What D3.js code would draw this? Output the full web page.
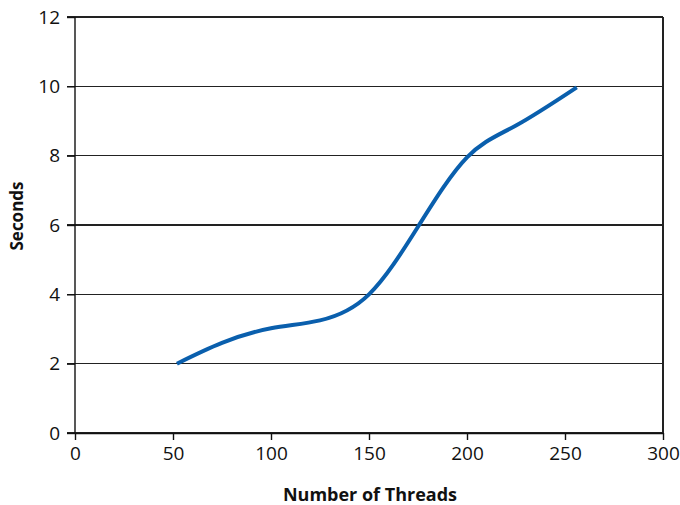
<!DOCTYPE html>
<html>
<head>
<meta charset="utf-8">
<script src="https://cdn.jsdelivr.net/npm/d3@7"></script>
<style>
  body { margin: 0; background: #fff; }
  svg text { font-family: "Open Sans", "DejaVu Sans", sans-serif; fill: #111; }
</style>
</head>
<body>
<div id="chart"></div>
<script>
// values
const threads = [52, 75, 100, 125, 150, 175, 200, 225, 256];
const seconds = [2.0, 2.6, 3.02, 3.25, 4.0, 5.95, 7.95, 8.87, 9.97];
const xTicks = [0, 50, 100, 150, 200, 250, 300];
const yTicks = [0, 2, 4, 6, 8, 10, 12];

const W = 680, H = 505;
const margin = { top: 17, right: 17, bottom: 72, left: 75 };
const iw = W - margin.left - margin.right, ih = H - margin.top - margin.bottom;

const svg = d3.select("#chart").append("svg").attr("width", W).attr("height", H);
const g = svg.append("g").attr("transform", `translate(${margin.left},${margin.top})`);

const x = d3.scaleLinear().domain([0, 300]).range([0, iw]);
const y = d3.scaleLinear().domain([0, 12]).range([ih, 0]);

// horizontal grid, extended past the axis as tick marks
g.append("g").selectAll("line").data(yTicks).join("line")
  .attr("x1", -8).attr("x2", iw).attr("y1", (d) => y(d)).attr("y2", (d) => y(d))
  .attr("stroke", "#222").attr("stroke-width", 1.2).attr("shape-rendering", "crispEdges");

// right border
g.append("line").attr("x1", iw).attr("x2", iw).attr("y1", 0).attr("y2", ih)
  .attr("stroke", "#222").attr("stroke-width", 1.2).attr("shape-rendering", "crispEdges");

const xAxis = g.append("g").attr("transform", `translate(0,${ih})`)
  .call(d3.axisBottom(x).tickValues(xTicks).tickSize(7).tickPadding(7).tickSizeOuter(0));
const yAxis = g.append("g")
  .call(d3.axisLeft(y).tickValues(yTicks).tickSize(8).tickPadding(7).tickSizeOuter(0));
for (const a of [xAxis, yAxis]) {
  a.attr("font-size", 19).attr("font-family", null);
  a.selectAll("path,line").attr("stroke", "#111").attr("stroke-width", 1.4);
}
yAxis.select(".domain").attr("d", `M0,0V${ih}`);

const pts = threads.map((t, i) => [t, seconds[i]]);
g.append("path").datum(pts)
  .attr("fill", "none").attr("stroke", "#0a5fad").attr("stroke-width", 4).attr("stroke-linecap", "butt")
  .attr("d", d3.line().x((d) => x(d[0])).y((d) => y(d[1])).curve(d3.curveNatural));

svg.append("text").attr("x", 370).attr("y", 501).attr("text-anchor", "middle")
  .style("font-size", "18px").style("font-weight", "bold").text("Number of Threads");
svg.append("text").attr("transform", "translate(23,216) rotate(-90)")
  .attr("text-anchor", "middle").style("font-size", "17px").style("font-weight", "bold").text("Seconds");
</script>
</body>
</html>
